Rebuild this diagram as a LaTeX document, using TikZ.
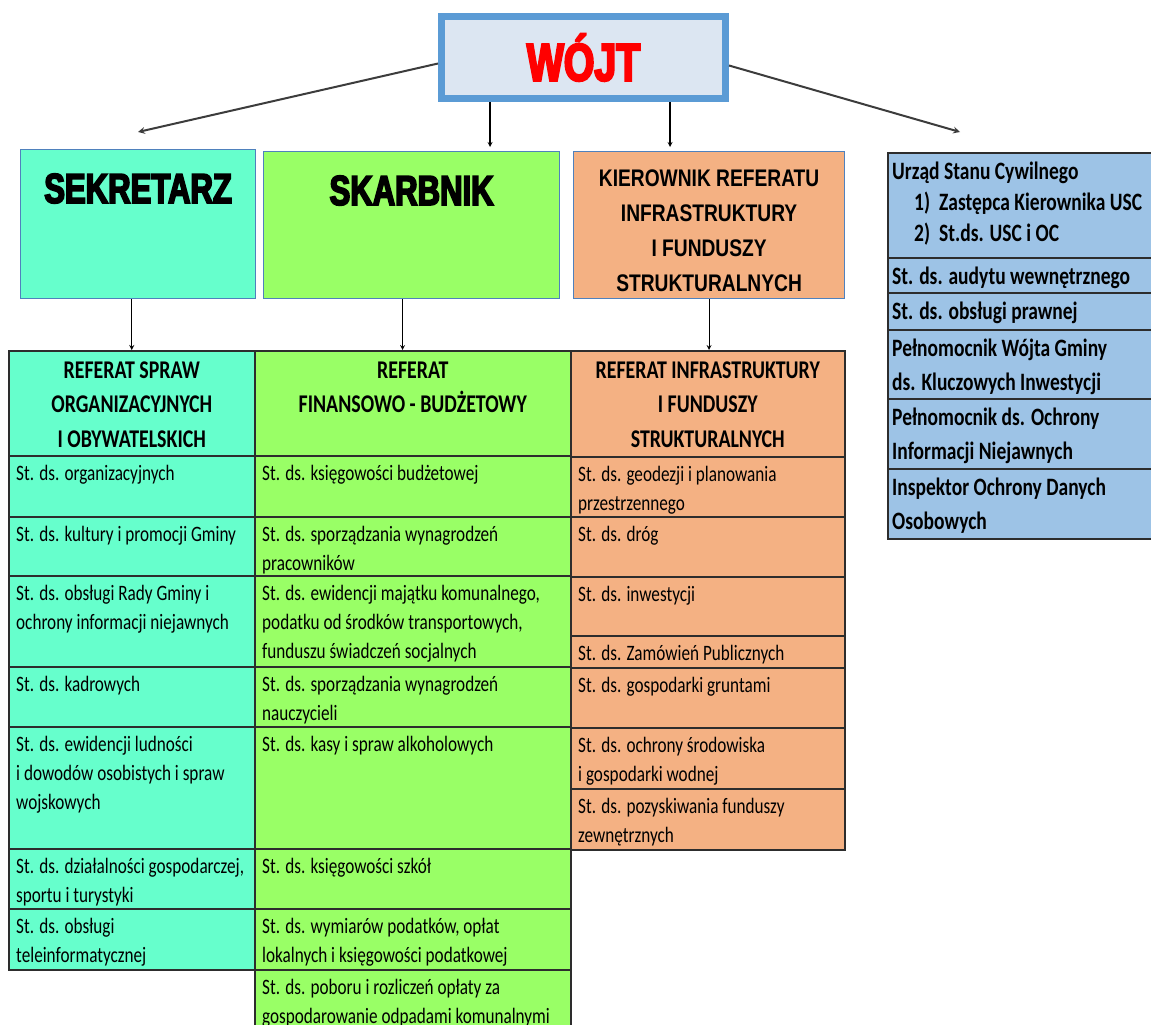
\documentclass[tikz,border=0pt]{standalone}
\usepackage{fontspec}
\setmainfont{Carlito}[FakeStretch=0.78]
\newfontfamily\headfont{Liberation Sans}[FakeStretch=0.8]
\newfontfamily\blackfont{Liberation Sans}[FakeStretch=0.74, BoldFeatures={FakeBold=4}]

\definecolor{sekcol}{RGB}{102,255,204}
\definecolor{skarbcol}{RGB}{153,255,102}
\definecolor{infcol}{RGB}{244,177,131}
\definecolor{usccol}{RGB}{157,195,230}
\definecolor{wojtfill}{RGB}{220,230,242}
\definecolor{wojtline}{RGB}{91,155,213}
\definecolor{bossline}{RGB}{79,129,189}
\definecolor{gridline}{RGB}{45,45,45}
\definecolor{arrowgray}{RGB}{60,60,60}

\tikzset{
  bossbox/.style={draw=bossline, line width=1.2pt, inner sep=0pt, anchor=north west},
  gridcell/.style={draw=gridline, line width=1.5pt, inner sep=0pt, anchor=north west},
  bigtxt/.style={font=\blackfont\bfseries\fontsize{42}{42}\selectfont, inner sep=0pt},
  kiertxt/.style={font=\headfont\bfseries\fontsize{24}{35}\selectfont, align=center, inner sep=0pt},
  bodytxt/.style={anchor=north west, align=left, inner xsep=8pt, inner ysep=5pt,
    font=\fontsize{22}{29}\selectfont},
  headtxt/.style={anchor=north, align=center, inner xsep=0pt, inner ysep=4pt,
    font=\bfseries\fontsize{25.5}{34.5}\selectfont},
  usctxt/.style={anchor=north west, align=left, inner xsep=5pt, inner ysep=3pt,
    font=\bfseries\fontsize{25}{34}\selectfont},
  diagarrow/.style={->, draw=arrowgray, line width=2pt},
  downarrow/.style={->, line width=1.2pt}
}

% cell of a table: style, name, left, top, right, bottom, text
\newcommand{\cell}[7]{%
  \pgfmathsetmacro{\cellw}{#5-#3}%
  \pgfmathsetmacro{\cellh}{#6-#4}%
  \node[gridcell, #1, minimum width=\cellw pt, minimum height=\cellh pt] (#2) at (#3,#4) {};
  \node[bodytxt] (#2t) at (#2.north west) {\strut #7};}
\newcommand{\headcell}[7]{%
  \pgfmathsetmacro{\cellw}{#5-#3}%
  \pgfmathsetmacro{\cellh}{#6-#4}%
  \node[gridcell, #1, minimum width=\cellw pt, minimum height=\cellh pt] (#2) at (#3,#4) {};
  \node[headtxt] (#2t) at (#2.north) {\strut #7};}
\newcommand{\usccell}[5]{%
  \pgfmathsetmacro{\cellh}{#4-#3}%
  \node[gridcell, fill=usccol, minimum width=300pt, minimum height=\cellh pt] (#1) at (#2,#3) {};
  \node[usctxt] (#1t) at (#1.north west) {\strut #5};}

\begin{document}
\begin{tikzpicture}[x=1pt, y=-1pt, >=stealth]
    \useasboundingbox (0,0) rectangle (1151,1025);
    \clip (0,0) rectangle (1151,1025);
    % Wójt
    \node[draw=wojtline, line width=7pt, fill=wojtfill, minimum width=284pt, minimum height=82pt,
          text=red, font=\blackfont\bfseries\fontsize{53}{53}\selectfont] (wojt) at (583.5,57.5) {WÓJT};
    % kierownictwo
    \node[bossbox, fill=sekcol, minimum width=235pt, minimum height=149pt] (sek) at (20,149) {};
    \node[bigtxt, anchor=base] (sekt) at ([yshift=-54pt]sek.north) {SEKRETARZ};
    \node[bossbox, fill=skarbcol, minimum width=296pt, minimum height=147pt] (skarb) at (263,151) {};
    \node[bigtxt, anchor=base] (skarbt) at ([yshift=-54pt]skarb.north) {SKARBNIK};
    \node[bossbox, fill=infcol, minimum width=271pt, minimum height=147pt] (kier) at (573,151) {};
    \node[kiertxt, anchor=north] (kiert) at ([yshift=-11pt]kier.north)
        {\strut KIEROWNIK REFERATU\\INFRASTRUKTURY\\I FUNDUSZY\\STRUKTURALNYCH};
    % stanowiska podległe wójtowi
    \usccell{usc}{887}{152}{257}{Urząd Stanu Cywilnego\\[-3pt]
        \hspace*{22pt}1)\hspace{9pt}Zastępca Kierownika USC\\[-3pt]\hspace*{22pt}2)\hspace{9pt}St.ds. USC i OC}
    \usccell{audyt}{887}{257}{292}{St. ds. audytu wewnętrznego}
    \usccell{prawna}{887}{292}{329}{St. ds. obsługi prawnej}
    \usccell{pelinw}{887}{329}{398}{Pełnomocnik Wójta Gminy\\ds. Kluczowych Inwestycji}
    \usccell{pelinf}{887}{398}{468}{Pełnomocnik ds. Ochrony\\Informacji Niejawnych}
    \usccell{iod}{887}{468}{538}{Inspektor Ochrony Danych\\Osobowych}
    % strzałki od wójta
    \coordinate (sektip) at (138,132);
    \coordinate (skarbtip) at (490,147);
    \coordinate (kiertip) at (670,147);
    \coordinate (usctip) at (960,132);
    \draw[diagarrow] ([yshift=-6pt]wojt.west) -- (sektip);
    \draw[diagarrow] ([yshift=-8pt]wojt.east) -- (usctip);
    \draw[downarrow] (wojt.south -| skarbtip) -- (skarbtip);
    \draw[downarrow] (wojt.south -| kiertip) -- (kiertip);
    % referat spraw organizacyjnych
    \headcell{fill=sekcol}{ref1}{8}{350}{254}{455}{REFERAT SPRAW\\ORGANIZACYJNYCH\\I OBYWATELSKICH}
    \cell{fill=sekcol}{org}{8}{455}{254}{516}{St. ds. organizacyjnych}
    \cell{fill=sekcol}{kult}{8}{516}{254}{575}{St. ds. kultury i promocji Gminy}
    \cell{fill=sekcol}{rada}{8}{575}{254}{666}{St. ds. obsługi Rady Gminy i\\ochrony informacji niejawnych}
    \cell{fill=sekcol}{kadr}{8}{666}{254}{726}{St. ds. kadrowych}
    \cell{fill=sekcol}{ewid}{8}{726}{254}{848}{St. ds. ewidencji ludności\\i dowodów osobistych i spraw\\wojskowych}
    \cell{fill=sekcol}{dzial}{8}{848}{254}{908}{St. ds. działalności gospodarczej,\\sportu i turystyki}
    \cell{fill=sekcol}{tele}{8}{908}{254}{969}{St. ds. obsługi\\teleinformatycznej}
    % referat finansowo-budżetowy
    \headcell{fill=skarbcol}{ref2}{254}{350}{570}{455}{REFERAT\\FINANSOWO - BUDŻETOWY}
    \cell{fill=skarbcol}{ksieg}{254}{455}{570}{516}{St. ds. księgowości budżetowej}
    \cell{fill=skarbcol}{wynp}{254}{516}{570}{575}{St. ds. sporządzania wynagrodzeń\\pracowników}
    \cell{fill=skarbcol}{majat}{254}{575}{570}{666}{St. ds. ewidencji majątku komunalnego,\\podatku od środków transportowych,\\funduszu świadczeń socjalnych}
    \cell{fill=skarbcol}{wynn}{254}{666}{570}{726}{St. ds. sporządzania wynagrodzeń\\nauczycieli}
    \cell{fill=skarbcol}{kasa}{254}{726}{570}{848}{St. ds. kasy i spraw alkoholowych}
    \cell{fill=skarbcol}{szkol}{254}{848}{570}{908}{St. ds. księgowości szkół}
    \cell{fill=skarbcol}{podat}{254}{908}{570}{969}{St. ds. wymiarów podatków, opłat\\lokalnych i księgowości podatkowej}
    \cell{fill=skarbcol}{odpad}{254}{969}{570}{1045}{St. ds. poboru i rozliczeń opłaty za\\gospodarowanie odpadami komunalnymi}
    % referat infrastruktury
    \headcell{fill=infcol}{ref3}{570}{350}{844}{456}{REFERAT INFRASTRUKTURY\\I FUNDUSZY\\STRUKTURALNYCH}
    \cell{fill=infcol}{geod}{570}{456}{844}{516}{St. ds. geodezji i planowania\\przestrzennego}
    \cell{fill=infcol}{drog}{570}{516}{844}{576}{St. ds. dróg}
    \cell{fill=infcol}{inwe}{570}{576}{844}{635}{St. ds. inwestycji}
    \cell{fill=infcol}{zamow}{570}{635}{844}{667}{St. ds. Zamówień Publicznych}
    \cell{fill=infcol}{grunt}{570}{667}{844}{727}{St. ds. gospodarki gruntami}
    \cell{fill=infcol}{srod}{570}{727}{844}{788}{St. ds. ochrony środowiska\\i gospodarki wodnej}
    \cell{fill=infcol}{fund}{570}{788}{844}{849}{St. ds. pozyskiwania funduszy\\zewnętrznych}
    % strzałki do referatów
    \draw[downarrow] (sek.south -| ref1.north) -- (ref1.north);
    \draw[downarrow] ([xshift=-9pt]skarb.south) -- ([xshift=-9pt]skarb.south |- ref2.north);
    \draw[downarrow] (kier.south) -- (kier.south |- ref3.north);
\end{tikzpicture}
\end{document}
